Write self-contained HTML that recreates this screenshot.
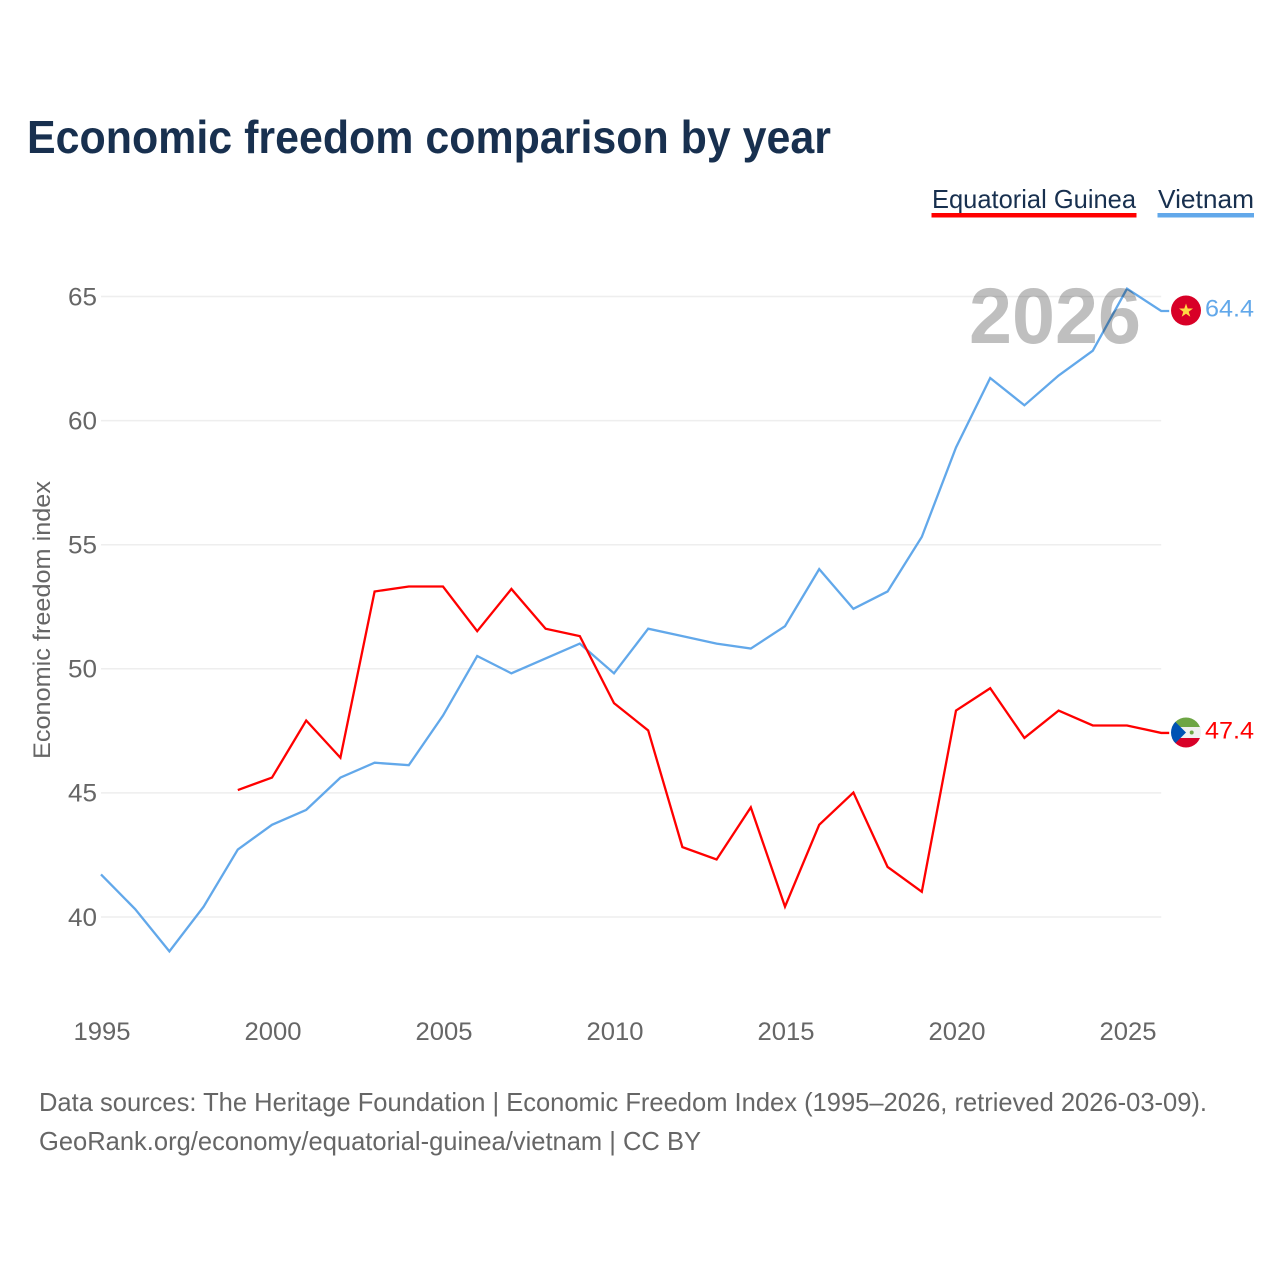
<!DOCTYPE html>
<html lang="en">
<head>
<meta charset="utf-8">
<title>Economic freedom comparison by year</title>
<style>
html,body{margin:0;padding:0;background:#fff;width:1280px;height:1280px;overflow:hidden}
svg{display:block}
text{font-family:"Liberation Sans",sans-serif}
</style>
</head>
<body>
<svg id="chart" xmlns="http://www.w3.org/2000/svg" width="1280" height="1280" viewBox="0 0 1280 1280">
  <rect x="0" y="0" width="1280" height="1280" fill="#fff"/>
  <text x="27" y="153" font-size="46" font-weight="700" fill="#18304f" textLength="804" lengthAdjust="spacingAndGlyphs">Economic freedom comparison by year</text>
  <g id="grid"></g>
  <g id="yticks"></g>
  <g id="xticks"></g>
  <text transform="translate(50,620) rotate(-90)" text-anchor="middle" font-size="24" fill="#666" textLength="278" lengthAdjust="spacingAndGlyphs">Economic freedom index</text>
  <g id="series"></g>
  <text x="969" y="343" font-size="79" font-weight="700" fill="#000" fill-opacity="0.25" textLength="172" lengthAdjust="spacingAndGlyphs">2026</text>

  <g>
    <text x="932" y="208" font-size="26" fill="#18304f" textLength="204" lengthAdjust="spacingAndGlyphs">Equatorial Guinea</text>
    <rect x="931.500" y="213" width="205" height="4.500" fill="#ff0000"/>
  </g>
  <g>
    <text x="1158" y="208" font-size="26" fill="#18304f" textLength="96" lengthAdjust="spacingAndGlyphs">Vietnam</text>
    <rect x="1157.500" y="213" width="96.500" height="4.500" fill="#62a8ea"/>
  </g>

  <g>
    <circle cx="1186" cy="310.500" r="15" fill="#d80027"/>
    <polygon fill="#ffda44" points="1186,303.500 1187.700,308.500 1193,308.500 1188.700,311.700 1190.300,316.800 1186,313.700 1181.700,316.800 1183.300,311.700 1179,308.500 1184.300,308.500"/>
  </g>
  <g>
    <clipPath id="eqClip"><circle cx="1186" cy="732.500" r="15"/></clipPath>
    <g clip-path="url(#eqClip)">
      <rect x="1171" y="717" width="30" height="11" fill="#6da544"/>
      <rect x="1171" y="727" width="30" height="11" fill="#f0f0f0"/>
      <rect x="1171" y="738" width="30" height="10" fill="#d80027"/>
      <polygon points="1171,717.500 1186,732.500 1171,747.500" fill="#0052b4"/>
      <circle cx="1191.700" cy="732.500" r="2" fill="#6da544"/>
    </g>
  </g>
  <text id="endVn" x="1205" y="316.500" font-size="24" fill="#62a8ea" textLength="49" lengthAdjust="spacingAndGlyphs"></text>
  <text id="endEq" x="1205" y="738.500" font-size="24" fill="#ff0000" textLength="49" lengthAdjust="spacingAndGlyphs"></text>

  <text x="39" y="1111" font-size="26" fill="#666" textLength="1168" lengthAdjust="spacingAndGlyphs">Data sources: The Heritage Foundation | Economic Freedom Index (1995–2026, retrieved 2026-03-09).</text>
  <text x="39" y="1150" font-size="26" fill="#666" textLength="662" lengthAdjust="spacingAndGlyphs">GeoRank.org/economy/equatorial-guinea/vietnam | CC BY</text>
</svg>
<script>
const years = [1995,1996,1997,1998,1999,2000,2001,2002,2003,2004,2005,2006,2007,2008,2009,2010,2011,2012,2013,2014,2015,2016,2017,2018,2019,2020,2021,2022,2023,2024,2025,2026];
const vietnamValues = [41.7,40.3,38.6,40.4,42.7,43.7,44.3,45.6,46.2,46.1,48.1,50.5,49.8,50.4,51.0,49.8,51.6,51.3,51.0,50.8,51.7,54.0,52.4,53.1,55.3,58.9,61.7,60.6,61.8,62.8,65.3,64.4];
const guineaValues = [null,null,null,null,45.1,45.6,47.9,46.4,53.1,53.3,53.3,51.5,53.2,51.6,51.3,48.6,47.5,42.8,42.3,44.4,40.4,43.7,45.0,42.0,41.0,48.3,49.2,47.2,48.3,47.7,47.7,47.4];
const yTickValues = [40,45,50,55,60,65];
const xTickValues = [1995,2000,2005,2010,2015,2020,2025];

const NS = 'http://www.w3.org/2000/svg';
function xScale(year){ return 101 + (year - 1995) * 34.2; }
function yScale(v){ return 916.6 - (v - 40) * 24.82; }
function make(tag, attrs, parent){
  const el = document.createElementNS(NS, tag);
  for (const k in attrs) el.setAttribute(k, attrs[k]);
  parent.appendChild(el);
  return el;
}
const gridG = document.getElementById('grid');
const yG = document.getElementById('yticks');
const xG = document.getElementById('xticks');
const seriesG = document.getElementById('series');

yTickValues.forEach(function(v){
  const gy = yScale(v) + 0.4;
  const line = make('line', {x1:xScale(1995), x2:xScale(2026), y1:gy, y2:gy, stroke:'#eeeeee', 'stroke-width':1.5}, gridG);
  
  
  const t = make('text', {x:97, y:gy+8.8, 'text-anchor':'end', 'font-size':25, fill:'#666', textLength:29, lengthAdjust:'spacingAndGlyphs'}, yG);
  
  
  t.textContent = v;
});
xTickValues.forEach(function(y){
  const t = make('text', {x:xScale(y)+1, y:1040, 'text-anchor':'middle', 'font-size':25, fill:'#666', textLength:57, lengthAdjust:'spacingAndGlyphs'}, xG);
  
  
  t.textContent = y;
});
function drawSeries(values, color, name){
  let d = '';
  let last = null;
  values.forEach(function(v, i){
    if (v === null) return;
    d += (d ? 'L' : 'M') + xScale(years[i]).toFixed(2) + ' ' + yScale(v).toFixed(2);
    last = v;
  });
  d += 'L' + (xScale(years[years.length-1]) + 8).toFixed(2) + ' ' + yScale(last).toFixed(2);
  const p = make('path', {d:d, fill:'none', stroke:color, 'stroke-width':2.3, 'stroke-linejoin':'miter', 'stroke-miterlimit':10}, seriesG);
  
  
}
drawSeries(vietnamValues, '#62a8ea', 'line-vietnam');
drawSeries(guineaValues, '#ff0000', 'line-equatorial-guinea');
document.getElementById('endVn').textContent = vietnamValues[vietnamValues.length-1].toFixed(1);
document.getElementById('endEq').textContent = guineaValues[guineaValues.length-1].toFixed(1);
</script>
</body>
</html>
